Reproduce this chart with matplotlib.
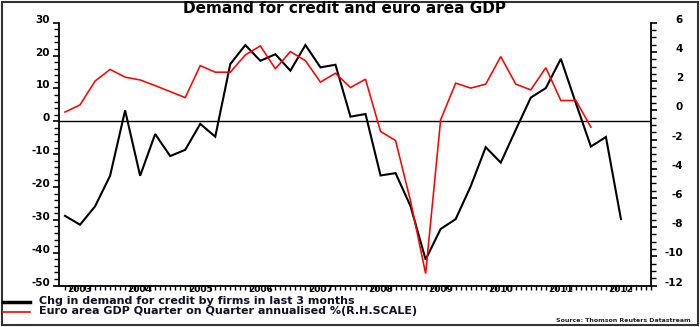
import matplotlib
matplotlib.use('Agg')
import matplotlib.pyplot as plt
import numpy as np
from matplotlib.transforms import ScaledTranslation
from matplotlib.ticker import MultipleLocator, FixedLocator
from matplotlib.patches import Rectangle
from matplotlib.lines import Line2D

# ---------------- data ----------------
title = "Demand for credit and euro area GDP"
series1_label = "Chg in demand for credit by firms in last 3 months"
series2_label = "Euro area GDP Quarter on Quarter annualised %(R.H.SCALE)"
source_text = "Source: Thomson Reuters Datastream"

years = [2003, 2004, 2005, 2006, 2007, 2008, 2009, 2010, 2011, 2012]
first_quarter = 2003.25  # Q2 2003

credit_demand = [-28.8, -31.5, -25.9, -16.6, 3.3, -16.6, -3.9, -10.6, -8.7, -0.8,
                 -4.7, 17.4, 23.2, 18.4, 20.4, 15.4, 23.2, 16.4, 17.2, 1.4,
                 2.2, -16.5, -15.8, -25.9, -42.1, -32.8, -29.8, -19.8, -7.9, -12.6,
                 -2.6, 7.2, 10.1, 19.0, 5.5, -7.7, -4.8, -29.8]

gdp_qoq = [-0.12, 0.37, 2.0, 2.8, 2.27, 2.08, 1.69, 1.28, 0.87, 3.06,
           2.61, 2.61, 3.79, 4.41, 2.84, 4.02, 3.40, 1.93, 2.54, 1.56,
           2.13, -1.45, -2.07, -6.23, -11.18, -0.65, 1.86, 1.52, 1.79, 3.68,
           1.79, 1.40, 2.92, 0.67, 0.67, -1.15]

left_ticks = [-50, -40, -30, -20, -10, 0, 10, 20, 30]
right_ticks = [-12, -10, -8, -6, -4, -2, 0, 2, 4, 6]

t_credit = first_quarter + 0.25 * np.arange(len(credit_demand))
t_gdp = first_quarter + 0.25 * np.arange(len(gdp_qoq))

W, H = 700, 327
fig = plt.figure(figsize=(W / 100, H / 100), dpi=100)
fig.patch.set_facecolor('white')

L, R, T, B = 59, 651, 22.7, 285.5
ax = fig.add_axes([L / W, 1 - B / H, (R - L) / W, (B - T) / H])
ax2 = ax.twinx()

ax.plot(t_credit, credit_demand, color='black', lw=1.5, solid_joinstyle='miter')
ax.axhline(0, color='black', lw=1.0)
ax2.plot(t_gdp, gdp_qoq, color='#ff0000', lw=1.15, solid_joinstyle='miter')

ax.set_xlim(2003.15, 2013.0)
ax.set_ylim(-50, 30)
ax2.set_ylim(-12, 6)

for a in (ax, ax2):
    a.spines['top'].set_visible(False)
ax.spines['right'].set_visible(False)
ax2.spines['left'].set_visible(False)
ax2.spines['bottom'].set_visible(False)
for sp in ('left', 'bottom'):
    ax.spines[sp].set_linewidth(1.3)
ax2.spines['right'].set_linewidth(1.3)

tick_font = dict(fontsize=7.5, fontweight='bold', family='DejaVu Sans')

ax.set_yticks(left_ticks)
ax.set_yticklabels([str(v) for v in left_ticks], **tick_font)
ax.yaxis.set_minor_locator(MultipleLocator(2))
ax.tick_params(axis='y', which='major', direction='out', length=4.5, width=1.2, pad=2)
ax.tick_params(axis='y', which='minor', direction='out', length=3.5, width=1.0)

ax2.set_yticks(right_ticks)
ax2.set_yticklabels([str(v) for v in right_ticks], ha='right', **tick_font)
ax2.yaxis.set_minor_locator(MultipleLocator(0.5))
ax2.tick_params(axis='y', which='major', direction='out', length=4.5, width=1.2, pad=18.5)
ax2.tick_params(axis='y', which='minor', direction='out', length=3.5, width=1.0)

ax.set_xticks([y + 0.5 for y in years])
ax.set_xticklabels([str(y) for y in years], fontsize=6.5, fontweight='bold')
months = np.arange(2003.25, 2013.0 + 1e-9, 1 / 12)
ax.xaxis.set_minor_locator(FixedLocator(months))
ax.tick_params(axis='x', which='major', length=0, pad=-0.5)
ax.tick_params(axis='x', which='minor', direction='out', length=3, width=1.0)

# tick labels sit slightly above their ticks in the original
up = ScaledTranslation(0, 4 / 100, fig.dpi_scale_trans)
for lbl in ax.get_yticklabels() + ax2.get_yticklabels():
    lbl.set_transform(lbl.get_transform() + up)

# title
fig.text(0.5 * (127 + 562) / W, 1 - 8.5 / H, title, ha='center', va='center',
         fontsize=11, fontweight='bold', color='black')

# legend
for yy, col, lw in ((302, 'black', 2.5), (312, '#ff0000', 1.2)):
    fig.add_artist(Line2D([3 / W, 30 / W], [1 - yy / H] * 2, color=col, lw=lw,
                          transform=fig.transFigure))
fig.text(39 / W, 1 - 300.5 / H, series1_label, ha='left', va='center',
         fontsize=8, fontweight='bold', color='#111122')
fig.text(39 / W, 1 - 311 / H, series2_label, ha='left', va='center',
         fontsize=8, fontweight='bold', color='#111122')

fig.text(691 / W, 1 - 321 / H, source_text, ha='right', va='center',
         fontsize=4.5, fontweight='bold', color='#222222')

# outer frame
fig.add_artist(Rectangle((1.5 / W, 2.5 / H), (696 / W), (323 / H), fill=False,
                         edgecolor='#333333', lw=1.5, transform=fig.transFigure))

fig.savefig('out.png', dpi=100)
